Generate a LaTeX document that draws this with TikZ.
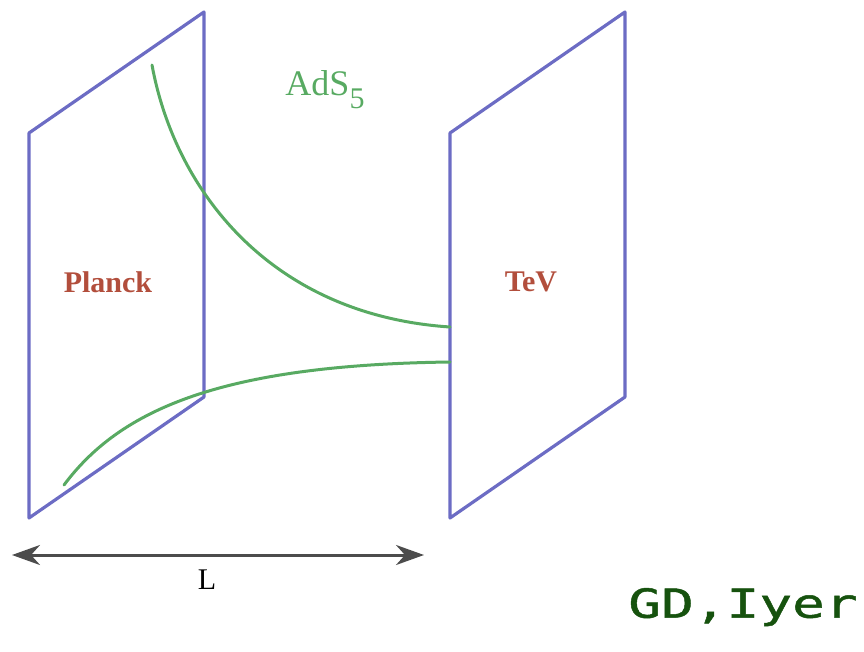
\documentclass[tikz,border=0pt]{standalone}
\usepackage{fontspec}
\setmainfont{Liberation Serif}
\newfontfamily\gdfont[FakeStretch=1.36,FakeBold=1.2]{DejaVu Sans Mono}
\usetikzlibrary{arrows.meta}
\definecolor{braneblue}{RGB}{108,108,196}
\definecolor{warpgreen}{RGB}{88,170,98}
\definecolor{branered}{RGB}{178,78,60}
\definecolor{gdgreen}{RGB}{22,82,14}
\begin{document}
\begin{tikzpicture}[x=1pt, y=-1pt,
    brane/.style={draw=braneblue, line width=3.2pt, line join=round},
    warp/.style={draw=warpgreen, line width=3pt, line cap=round},
    branelabel/.style={text=branered, font=\fontsize{30}{34}\selectfont\bfseries}]
    \useasboundingbox (0,0) rectangle (864,652);
    % Planck brane
    \coordinate (pa) at (29,133);
    \coordinate (pb) at (204,12);
    \coordinate (pc) at (204,397);
    \coordinate (pd) at (29,518);
    \draw[brane] (pa) -- (pb) -- (pc) -- (pd) -- cycle;
    % TeV brane
    \coordinate (ta) at (450,133);
    \coordinate (tb) at (625,12);
    \coordinate (tc) at (625,397);
    \coordinate (td) at (450,518);
    \draw[brane] (ta) -- (tb) -- (tc) -- (td) -- cycle;
    % warped profiles
    \coordinate (upS) at (152,65);
    \coordinate (upE) at (450,327);
    \coordinate (loS) at (64,485);
    \coordinate (loE) at (450,362);
    \draw[warp] (upS) .. controls (175,190) and (270,315) .. (upE);
    \draw[warp] (loS) .. controls (120,410) and (220,365) .. (loE);
    \node[branelabel] (planck) at (108,282) {Planck};
    \node[branelabel] (tev) at (531,282) {TeV};
    \node[text=warpgreen, font=\fontsize{36}{40}\selectfont] (ads) at (325,90)
        {AdS\raisebox{-0.36em}{\fontsize{30}{32}\selectfont 5}};
    % length of the bulk
    \coordinate (arrL) at (12,555);
    \coordinate (arrR) at (424,555);
    \draw[draw=black!70, line width=3pt, {Stealth[length=28pt,width=20pt,inset=9pt]}-{Stealth[length=28pt,width=20pt,inset=9pt]}] (arrL) -- (arrR);
    \node[font=\fontsize{30}{34}\selectfont] (len) at (207,580) {L};
    \node[text=gdgreen, font=\gdfont\fontsize{40}{44}\selectfont] (credit) at (743,607) {GD,Iyer};
\end{tikzpicture}
\end{document}
